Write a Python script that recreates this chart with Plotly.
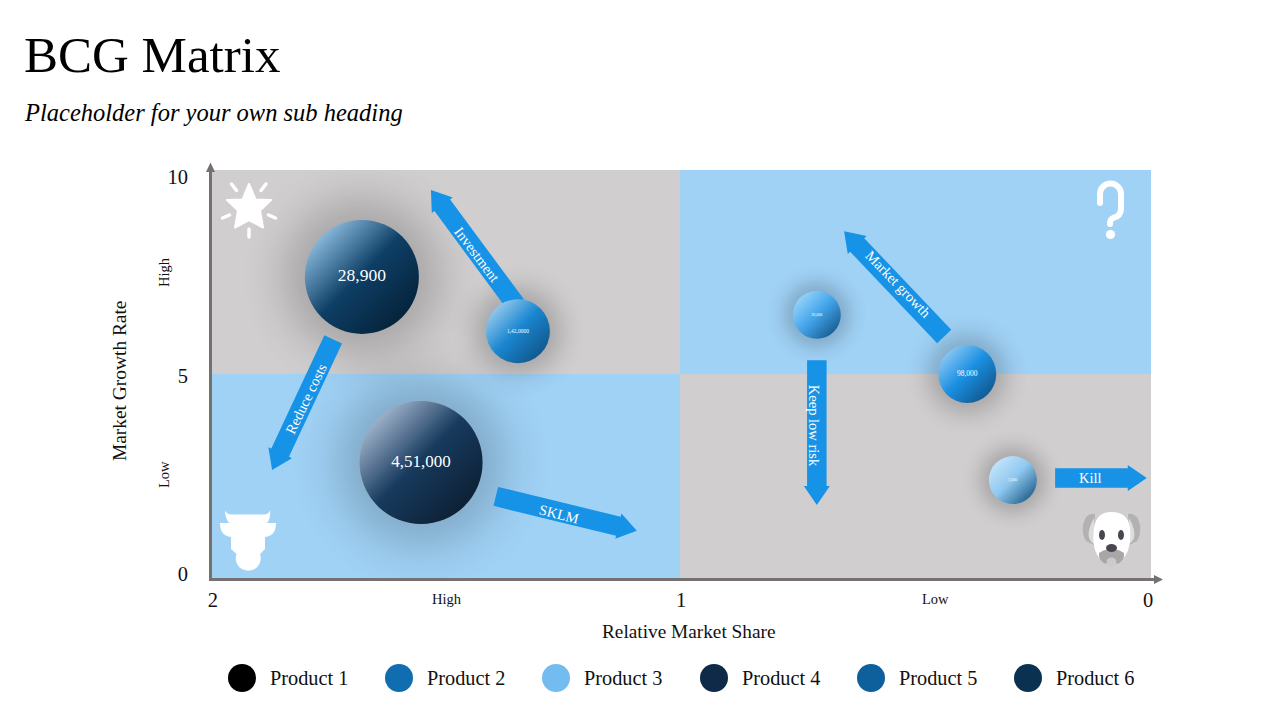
import base64
import json
import math
import plotly.graph_objects as go

W, H = 1280, 720
FONT = "Liberation Serif"
TEXT = "#111111"
ARROW_BLUE = "#1692e6"
AXIS_GREY = "#767171"
QUAD_GREY = "#d0cecf"
QUAD_BLUE = "#a0d2f6"

# bubbles
bubble_x = [1.679, 1.347, 1.553, 0.711, 0.391, 0.294]
bubble_y = [7.38, 6.05, 2.83, 6.45, 5.0, 2.40]
bubble_size = [114, 64, 123, 48, 58, 48]
bubble_labels = ["28,900", "1,42,0000", "4,51,000", "38,000", "98,000", "3,000"]
label_sizes = [17.5, 5.5, 17, 4, 7.5, 4]
bubble_light = ["#84b5d8", "#8fc6ec", "#9aafc7", "#92d0f7", "#84c4f2", "#c0e2f9"]
bubble_mid = ["#0e3f66", "#1a86d0", "#173a5e", "#45a6ec", "#1a90e2", "#8fc8ef"]
bubble_dark = ["#05243c", "#125a90", "#0d2136", "#1b6298", "#125c94", "#2c6a96"]

# block arrows: tail x, tail y, tip x, tip y (axis units)
arrow_tail_x = [1.351, 1.740, 1.394, 0.440, 0.711, 0.204]
arrow_tail_y = [6.69, 5.85, 2.00, 5.92, 5.34, 2.45]
arrow_tip_x = [1.532, 1.870, 1.094, 0.653, 0.711, 0.009]
arrow_tip_y = [9.51, 2.65, 1.16, 8.50, 1.79, 2.45]
arrow_labels = ["Investment", "Reduce costs", "SKLM", "Market growth", "Keep low risk", "Kill"]
arrow_label_x = [1.435, 1.798, 1.260, 0.538, 0.717, 0.128]
arrow_label_y = [7.94, 4.39, 1.58, 7.21, 3.73, 2.45]
arrow_label_angle = [53, -64, 14, 46, 90, 0]

# axes
x_tick_vals = [1.996, 1.0, 0.006]
x_tick_text = ["2", "1", "0"]
y_tick_vals = [0.1, 4.95, 9.83]
y_tick_text = ["0", "5", "10"]
split_x = 1.002

# legend
products = ["Product 1", "Product 2", "Product 3", "Product 4", "Product 5", "Product 6"]
product_colors = ["#000000", "#106eb0", "#73bcf0", "#0f2a48", "#0e609c", "#0a3250"]
legend_x = [242, 399, 556, 714, 871, 1028]

# plot area in page pixels
LEFT, RIGHT, TOP, BOTTOM = 211, 1151, 170, 578
PX_PER_X = (RIGHT - LEFT) / 2
PX_PER_Y = (BOTTOM - TOP) / 10


def px(x):
    return x / W


def py(y):
    return 1 - y / H


def block_arrow(x0, y0, x1, y1, shaft=19.5, head=26, head_len=19):
    # work in screen pixels so the arrow keeps its shape, then go back to axis units
    sx0, sy0 = -x0 * PX_PER_X, -y0 * PX_PER_Y
    sx1, sy1 = -x1 * PX_PER_X, -y1 * PX_PER_Y
    length = math.hypot(sx1 - sx0, sy1 - sy0)
    ux, uy = (sx1 - sx0) / length, (sy1 - sy0) / length
    nx, ny = -uy, ux
    bx, by = sx1 - ux * head_len, sy1 - uy * head_len
    pts = [
        (sx0 + nx * shaft / 2, sy0 + ny * shaft / 2),
        (bx + nx * shaft / 2, by + ny * shaft / 2),
        (bx + nx * head / 2, by + ny * head / 2),
        (sx1, sy1),
        (bx - nx * head / 2, by - ny * head / 2),
        (bx - nx * shaft / 2, by - ny * shaft / 2),
        (sx0 - nx * shaft / 2, sy0 - ny * shaft / 2),
        (sx0 + nx * shaft / 2, sy0 + ny * shaft / 2),
    ]
    return [-a / PX_PER_X for a, b in pts], [-b / PX_PER_Y for a, b in pts]


# white corner icons, drawn in page pixels
icons = f"""<svg xmlns="http://www.w3.org/2000/svg" width="{W}" height="{H}" viewBox="0 0 {W} {H}">
<path d="M249 184 L255.5 199.5 L271 200 L260 210.5 L263 227.5 L249 220 L235 227.5 L238 210.5 L227 200 L242.5 199.5 Z"
 fill="#fff" stroke="#fff" stroke-width="2" stroke-linejoin="round"/>
<g stroke="#fff" stroke-width="3.5" stroke-linecap="round" fill="none">
<path d="M231.5 184 L236.5 190.5"/><path d="M266 184 L261 190.5"/>
<path d="M222.5 218 L229.5 215"/><path d="M275.5 218 L268.5 215"/><path d="M249 229 L249 237"/>
</g>
<path d="M225 510.5 Q227 515 233 514.5 L263 514.5 Q268 515 270 510.5 Q271 518 267 523 L276 523 Q276 536 265 537
 L265 549 L260 554 A12.5 12.5 0 1 1 236.5 554 L231 549 L231 537 Q220 536 220 523 L229 523 Q225 518 225 510.5 Z" fill="#fff"/>
<g stroke="#fff" stroke-width="6" stroke-linecap="round" fill="none">
<path d="M1100 203 L1100 194 A10.5 10.5 0 0 1 1121 194 L1121 209 Q1121 216 1113 218 Q1110 219 1110 224"/>
</g>
<circle cx="1110.5" cy="234.5" r="4.6" fill="#fff"/>
<path d="M1095 514 Q1086 512 1083 525 Q1082 535 1086 541 L1094 545 Z" fill="#b3b1b1"/>
<path d="M1128 514 Q1137 512 1140 525 Q1141 535 1137 541 L1129 545 Z" fill="#b3b1b1"/>
<path d="M1094 518 Q1087 530 1089 538 Q1092 545 1096 543 Z" fill="#dedddd"/>
<path d="M1129 518 Q1136 530 1134 538 Q1131 545 1127 543 Z" fill="#dedddd"/>
<path d="M1111.5 512 Q1128 512 1130 528 Q1132 550 1122 560 Q1112 567 1101 560 Q1091 550 1094 528 Q1096 512 1111.5 512 Z" fill="#fff"/>
<path d="M1099 553 Q1105 548 1111.5 550 Q1118 548 1124 553 Q1125 562 1116 564 L1107 564 Q1098 562 1099 553 Z" fill="#a9a6a6"/>
<ellipse cx="1111.5" cy="562" rx="5" ry="4.5" fill="#cccaca"/>
<ellipse cx="1102" cy="535" rx="3" ry="5" fill="#4a4550"/><ellipse cx="1121" cy="535" rx="3" ry="5" fill="#4a4550"/>
<ellipse cx="1111.5" cy="548" rx="5.5" ry="4" fill="#4a4550"/>
</svg>"""
icons_uri = "data:image/svg+xml;base64," + base64.b64encode(icons.encode()).decode()

fig = go.Figure()

# soft shadow round each bubble (blurred in post_js), under the arrows
fig.add_trace(go.Scatter(
    x=bubble_x, y=bubble_y, mode="markers", hoverinfo="skip", showlegend=False,
    marker=dict(size=[s * 1.35 for s in bubble_size], color="rgba(0,0,0,0.3)", line_width=0),
))

# all block arrows as one filled trace, so they sit between shadows and bubbles
arrow_xs, arrow_ys = [], []
for i in range(len(arrow_labels)):
    ax, ay = block_arrow(arrow_tail_x[i], arrow_tail_y[i], arrow_tip_x[i], arrow_tip_y[i])
    arrow_xs += ax + [None]
    arrow_ys += ay + [None]
fig.add_trace(go.Scatter(
    x=arrow_xs, y=arrow_ys, mode="lines", fill="toself", fillcolor=ARROW_BLUE,
    line=dict(width=0, color=ARROW_BLUE), hoverinfo="skip", showlegend=False,
))

fig.add_trace(go.Scatter(
    x=bubble_x, y=bubble_y, mode="markers+text", hoverinfo="skip", showlegend=False,
    text=bubble_labels, textposition="middle center",
    textfont=dict(family=FONT, size=label_sizes, color="white"),
    marker=dict(size=bubble_size, color=bubble_mid, line_width=0, opacity=1,
                gradient=dict(type="horizontal", color=bubble_dark)),
))

# legend row, on an overlay axis that covers the whole page
fig.add_trace(go.Scatter(
    x=legend_x, y=[678] * len(legend_x), xaxis="x2", yaxis="y2", mode="markers",
    hoverinfo="skip", showlegend=False,
    marker=dict(size=28, color=product_colors, line_width=0),
))
fig.add_trace(go.Scatter(
    x=[v + 28 for v in legend_x], y=[680] * len(legend_x), xaxis="x2", yaxis="y2", mode="text",
    text=products, textposition="middle right", hoverinfo="skip", showlegend=False,
    textfont=dict(family=FONT, size=20.3, color=TEXT),
))

# grey base under the two blue quadrants avoids a white seam between them
shapes = [
    dict(type="rect", x0=2, x1=0, y0=0, y1=10, fillcolor=QUAD_GREY, line_width=0, layer="below"),
    dict(type="rect", x0=split_x, x1=0, y0=5, y1=10, fillcolor=QUAD_BLUE, line_width=0, layer="below"),
    dict(type="rect", x0=2, x1=split_x, y0=0, y1=5, fillcolor=QUAD_BLUE, line_width=0, layer="below"),
]

# axis lines with their arrow heads
shapes += [
    dict(type="line", xref="paper", yref="paper", x0=px(210.5), x1=px(210.5), y0=py(581), y1=py(171),
         line=dict(color=AXIS_GREY, width=3)),
    dict(type="path", xref="paper", yref="paper", line_width=0, fillcolor=AXIS_GREY,
         path=f"M{px(206)},{py(172)} L{px(210.5)},{py(162.5)} L{px(215)},{py(172)} Z"),
    dict(type="line", xref="paper", yref="paper", x0=px(209), x1=px(1155), y0=py(579.5), y1=py(579.5),
         line=dict(color=AXIS_GREY, width=3)),
    dict(type="path", xref="paper", yref="paper", line_width=0, fillcolor=AXIS_GREY,
         path=f"M{px(1154)},{py(575)} L{px(1163)},{py(579.5)} L{px(1154)},{py(584)} Z"),
]

annotations = [
    dict(text=arrow_labels[i], x=arrow_label_x[i], y=arrow_label_y[i], showarrow=False,
         textangle=arrow_label_angle[i], font=dict(family=FONT, size=14.5, color="white"))
    for i in range(len(arrow_labels))
]
# axis titles sit a little off centre in the original, so they are placed by hand
page_labels = [
    ("High", 447, 599, 0, 14.5), ("Low", 935, 599, 0, 14.5),
    ("High", 164, 272, -90, 14.5), ("Low", 164, 475, -90, 14.5),
    ("Relative Market Share", 688, 631, 0, 19.3), ("Market Growth Rate", 119, 381, -90, 19.4),
]
for text, lx, ly, angle, size in page_labels:
    annotations.append(dict(text=text, xref="paper", yref="paper", x=px(lx), y=py(ly), showarrow=False,
                            xanchor="center", yanchor="middle", textangle=angle,
                            font=dict(family=FONT, size=size, color=TEXT)))
annotations.append(dict(text="<i>Placeholder for your own sub heading</i>", xref="paper", yref="paper",
                        x=px(22), y=py(112), xanchor="left", yanchor="middle", showarrow=False,
                        font=dict(family=FONT, size=24.5, color="#000000")))

fig.update_layout(
    width=W, height=H, margin=dict(l=0, r=0, t=0, b=0, autoexpand=False),
    paper_bgcolor="white", plot_bgcolor="rgba(0,0,0,0)",
    title=dict(text="BCG Matrix", x=px(24), xanchor="left", y=py(54), yanchor="middle",
               font=dict(family=FONT, size=51, color="#000000")),
    showlegend=False, shapes=shapes, annotations=annotations,
    images=[dict(source=icons_uri, xref="paper", yref="paper", x=0, y=1, sizex=1, sizey=1,
                 xanchor="left", yanchor="top", sizing="stretch", layer="above")],
    xaxis=dict(domain=[px(LEFT), px(RIGHT)], range=[2, 0], showgrid=False, zeroline=False,
               tickmode="array", tickvals=x_tick_vals, ticktext=x_tick_text, ticks="",
               tickfont=dict(family=FONT, size=20.5, color=TEXT), ticklabelstandoff=7),
    yaxis=dict(domain=[py(BOTTOM), py(TOP)], range=[0, 10], showgrid=False, zeroline=False,
               tickmode="array", tickvals=y_tick_vals, ticktext=y_tick_text, ticks="",
               tickfont=dict(family=FONT, size=20.5, color=TEXT), ticklabelstandoff=22),
    xaxis2=dict(domain=[0, 1], range=[0, W], visible=False, anchor="y2"),
    yaxis2=dict(domain=[0, 1], range=[H, 0], visible=False, anchor="x2"),
)

# plotly only has horizontal/vertical marker gradients, so turn them into the
# diagonal three-stop fill the bubbles need, blur the shadows, drop the page margin
post_js = """
document.body.style.margin = '0';
var gd = document.getElementById('{plot_id}');
var light = %s, mid = %s, dark = %s, sizes = %s;
var traces = gd.querySelectorAll('.scatterlayer .trace');
traces[0].querySelectorAll('.points path').forEach(function (p, i) {
    p.style.filter = 'blur(' + (sizes[i] * 0.2) + 'px)';
});
traces[2].querySelectorAll('.points path').forEach(function (p, i) {
    var id = p.style.fill.match(/#([^'")]+)/)[1];
    var g = document.getElementById(id);
    if (!g) return;
    g.setAttribute('x1', '0.15'); g.setAttribute('y1', '0.15');
    g.setAttribute('x2', '0.85'); g.setAttribute('y2', '0.85');
    while (g.firstChild) g.removeChild(g.firstChild);
    [[0, light[i]], [0.48, mid[i]], [1, dark[i]]].forEach(function (s) {
        var st = document.createElementNS('http://www.w3.org/2000/svg', 'stop');
        st.setAttribute('offset', s[0]);
        st.setAttribute('stop-color', s[1]);
        g.appendChild(st);
    });
});
""" % (json.dumps(bubble_light), json.dumps(bubble_mid), json.dumps(bubble_dark), json.dumps(bubble_size))

fig.write_html("out.html", post_script=post_js, config={"displayModeBar": False})
